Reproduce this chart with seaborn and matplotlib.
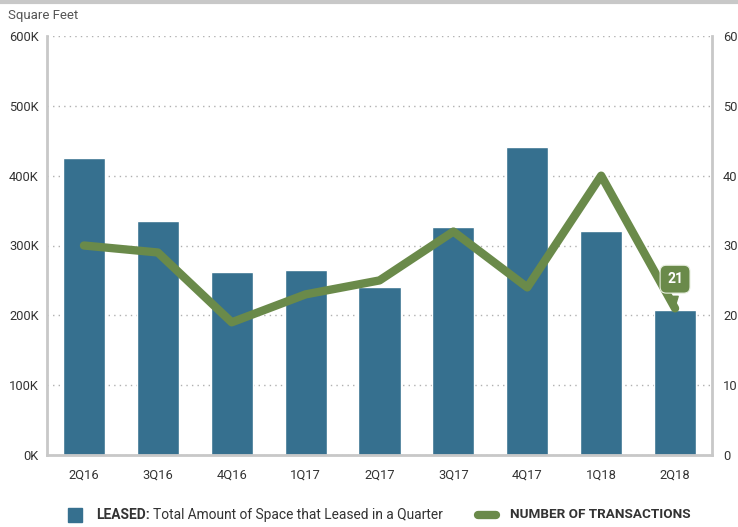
import numpy as np
import pandas as pd
import matplotlib
matplotlib.use("Agg")
import matplotlib.pyplot as plt
import seaborn as sns
from matplotlib.lines import Line2D
from matplotlib.patches import Rectangle
from matplotlib.ticker import FuncFormatter, MultipleLocator

quarters = ["2Q16", "3Q16", "4Q16", "1Q17", "2Q17", "3Q17", "4Q17", "1Q18", "2Q18"]
leased_sf = [425000, 335000, 262000, 265000, 241000, 327000, 441000, 321000, 208000]
transactions = [30, 29, 19, 23, 25, 32, 24, 40, 21]

BAR = "#36708f"
LINE = "#6a8a4a"
TXT = "#333333"
SPINE = "#c8c8c8"

sns.set_theme(style="white")
plt.rcParams["font.family"] = ["Liberation Sans Narrow", "Roboto", "DejaVu Sans"]

fig = plt.figure(figsize=(7.38, 5.27), dpi=100)
ax = fig.add_axes([47 / 738, 72 / 527, 665 / 738, 419 / 527])

df = pd.DataFrame({"quarter": quarters, "leased": leased_sf, "deals": transactions})
sns.barplot(data=df, x="quarter", y="leased", color=BAR, saturation=1,
            width=0.57, ax=ax, zorder=2)
ax.set_ylim(0, 600000)
ax.set_xlim(-0.5, len(quarters) - 0.5)
ax.yaxis.set_major_locator(MultipleLocator(100000))
ax.yaxis.set_major_formatter(FuncFormatter(lambda v, p: f"{int(v / 1000)}K"))
ax.grid(axis="y", linestyle=(0, (1, 3)), color="#b0b0b0", linewidth=1, zorder=0)
ax.set_xlabel("")
ax.set_ylabel("")
ax.tick_params(axis="x", length=0, pad=10, labelsize=9.3, labelcolor=TXT)
ax.tick_params(axis="y", length=0, pad=6, labelsize=9.3, labelcolor=TXT)
for side in ["left", "right", "bottom"]:
    ax.spines[side].set_color(SPINE)
    ax.spines[side].set_linewidth(2)
ax.spines["top"].set_visible(False)

ax2 = ax.twinx()
sns.lineplot(x=np.arange(len(quarters)), y=df["deals"], color=LINE, linewidth=6,
             solid_capstyle="round", solid_joinstyle="round", ax=ax2, zorder=3)
ax2.set_ylim(0, 60)
ax2.yaxis.set_major_locator(MultipleLocator(10))
ax2.set_ylabel("")
ax2.tick_params(axis="y", length=0, pad=8, labelsize=9.3, labelcolor=TXT)
for s in ax2.spines.values():
    s.set_visible(False)

last = len(quarters) - 1
ax2.annotate(str(transactions[last]), xy=(last, transactions[last]),
             xytext=(0, 21), textcoords="offset points", ha="center", va="center",
             color="white", fontsize=10, fontweight="bold",
             bbox=dict(boxstyle="round,pad=0.5,rounding_size=0.45", fc=LINE,
                       ec="#e8efe0", lw=0.8),
             arrowprops=dict(arrowstyle="wedge,tail_width=0.45,shrink_factor=0.5",
                             fc=LINE, ec=LINE, shrinkB=1))

# header rule and axis caption
fig.add_artist(Line2D([0, 1], [1 - 2 / 527, 1 - 2 / 527], color="#c8c8c8", lw=3,
                      transform=fig.transFigure))
fig.text(8 / 738, 1 - 15 / 527, "Square Feet", fontsize=9.5, color="#555555",
         va="center", ha="left")

# legend
ly = 1 - 515 / 527
fig.add_artist(Rectangle((68 / 738, ly - 7 / 527), 14 / 738, 14 / 527,
                         transform=fig.transFigure, color=BAR))
t = fig.text(96 / 738, ly, "LEASED:", fontsize=9.9, fontweight="bold",
             color=TXT, va="center", ha="left")
fig.canvas.draw()
bb = t.get_window_extent()
fig.text(bb.x1 / 738 + 3 / 738, ly, "Total Amount of Space that Leased in a Quarter",
         fontsize=9.9, color=TXT, va="center", ha="left")
fig.add_artist(Line2D([478 / 738, 496 / 738], [ly, ly], color=LINE, lw=6,
                      solid_capstyle="round", transform=fig.transFigure))
fig.text(510 / 738, ly, "NUMBER OF TRANSACTIONS", fontsize=9.7, fontweight="bold",
         color=TXT, va="center", ha="left")

fig.savefig("out.png", dpi=100)
